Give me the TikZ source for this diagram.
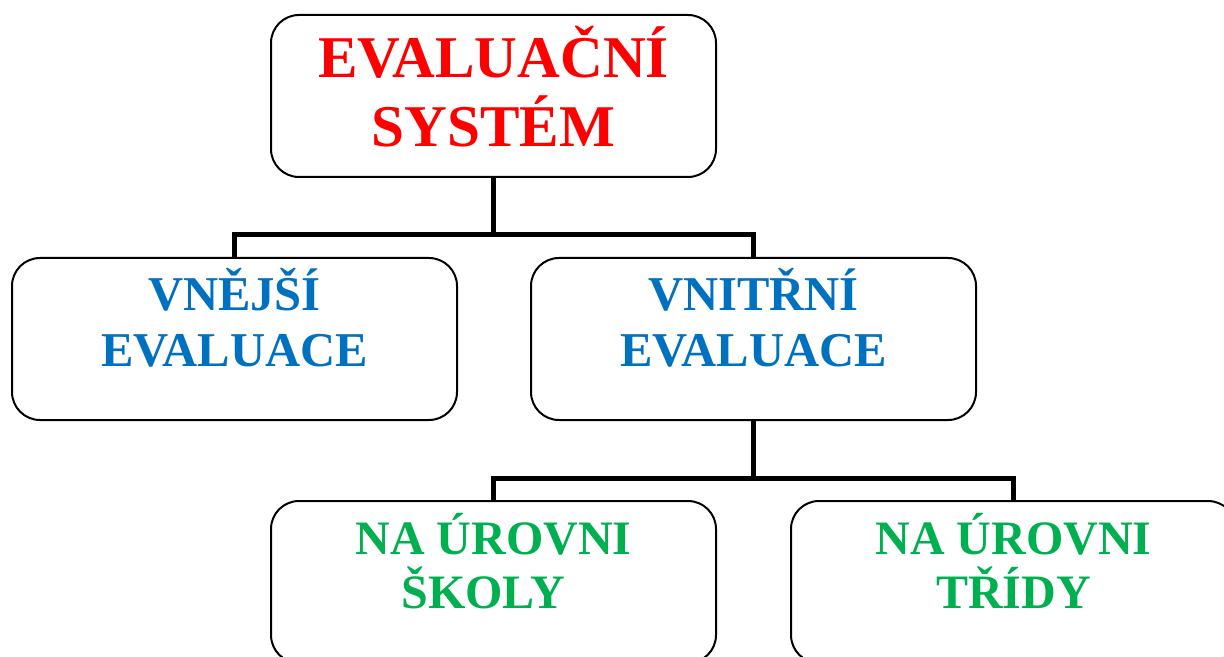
\documentclass[tikz,border=0pt]{standalone}
\usepackage{fontspec}
\setmainfont{Liberation Serif}
\usetikzlibrary{positioning}

\definecolor{evalred}{RGB}{255,0,0}
\definecolor{evalblue}{RGB}{0,112,192}
\definecolor{evalgreen}{RGB}{0,176,80}

\tikzset{
    box/.style={draw, line width=1pt, rounded corners=14pt, fill=white,
        minimum width=222.5pt, minimum height=81pt, inner sep=0pt},
    link/.style={line width=2.5pt},
    toptxt/.style={align=center, inner sep=0pt, text=evalred,
        font=\fontsize{29.6pt}{34.5pt}\selectfont\bfseries},
    midtxt/.style={align=center, inner sep=0pt, text=evalblue,
        font=\fontsize{24.3pt}{28pt}\selectfont\bfseries},
    lowtxt/.style={align=center, inner sep=0pt, text=evalgreen,
        font=\fontsize{24pt}{27pt}\selectfont\bfseries}
}

\begin{document}
\begin{tikzpicture}[x=0.5pt, y=-0.5pt]
        \useasboundingbox (0,0) rectangle (1224,657);
        \clip (0,0) rectangle (1224,657);

        % Boxes
        \node[box] (system) at (493.5,96) {};
        \node[box] (outer) at (234.5,339) {};
        \node[box] (inner) at (753.5,339) {};
        \node[box] (school) at (493.5,582) {};
        \node[box] (class) at (1013.5,582) {};

        % Texts
        \node[toptxt] (systemtxt) at (493.5,87) {EVALUAČNÍ\\SYSTÉM};
        \node[midtxt] (outertxt) at (234.5,318) {VNĚJŠÍ\\EVALUACE};
        \node[midtxt] (innertxt) at (753.5,318) {VNITŘNÍ\\EVALUACE};
        \node[lowtxt] (schooltxt) at (493.5,561) {NA ÚROVNI\\ŠKOLY\hspace*{0.42em}};
        \node[lowtxt] (classtxt) at (1013.5,561) {NA ÚROVNI\\TŘÍDY};

        % Connectors
        \coordinate (split1) at (493.5,235);
        \coordinate (split2) at (753.5,478);
        \draw[link] (system.south) -- (split1);
        \draw[link] (outer.north) |- (split1) -| (inner.north);
        \draw[link] (inner.south) -- (split2);
        \draw[link] (school.north) |- (split2) -| (class.north);
    \end{tikzpicture}
\end{document}
